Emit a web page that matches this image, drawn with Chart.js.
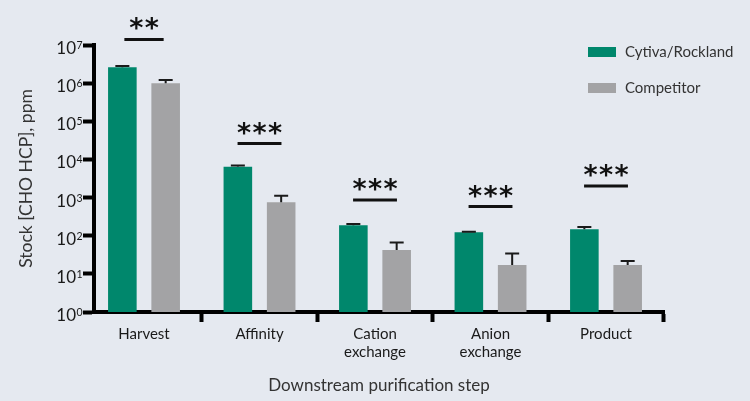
<!DOCTYPE html>
<html>
<head>
<meta charset="utf-8">
<script src="https://cdn.jsdelivr.net/npm/chart.js@4"></script>
<style>
  html, body { margin: 0; padding: 0; background: #e5e9f0; }
  #wrap { width: 750px; height: 401px; }
</style>
</head>
<body>
<div id="wrap"><canvas id="chart" width="750" height="401"></canvas></div>
<script>
// --- DATA ---
const steps = ['Harvest', 'Affinity', ['Cation', 'exchange'], ['Anion', 'exchange'], 'Product'];
const cytiva = [2.6e6, 6400, 187, 123, 147];
const cytivaErr = [2.8e6, 6900, 203, 127, 170];       // top of error bar
const competitor = [1.0e6, 750, 42, 17, 17];
const competitorErr = [1.2e6, 1120, 66, 34, 21.6];
const sigLabels = ['**', '***', '***', '***', '***'];
const sigLevel = [1.4e7, 2.6e4, 865, 580, 2000];     // height of the bracket line
const yTickExps = [0, 1, 2, 3, 4, 5, 6, 7];

const GREEN = '#00876c';
const GREY = '#a3a3a5';
const FONT = 'Lato, "Open Sans", sans-serif';

// --- PLUGINS ---
const errorBars = {
  id: 'errorBars',
  afterDatasetsDraw(chart) {
    const { ctx } = chart;
    const y = chart.scales.y;
    ctx.save();
    ctx.strokeStyle = '#1a1a1a';
    ctx.lineWidth = 2;
    chart.data.datasets.forEach((ds, di) => {
      chart.getDatasetMeta(di).data.forEach((bar, i) => {
        const top = y.getPixelForValue(ds.errUp[i]);
        ctx.beginPath();
        ctx.moveTo(bar.x, bar.y);
        ctx.lineTo(bar.x, top);
        ctx.moveTo(bar.x - 7, top);
        ctx.lineTo(bar.x + 7, top);
        ctx.stroke();
      });
    });
    ctx.restore();
  }
};

const sigMarks = {
  id: 'sigMarks',
  afterDraw(chart) {
    const { ctx } = chart;
    const { x, y } = chart.scales;
    ctx.save();
    ctx.strokeStyle = '#111';
    ctx.fillStyle = '#111';
    ctx.lineWidth = 3;
    ctx.font = 'bold 27px "DejaVu Sans"';
    ctx.textAlign = 'center';
    ctx.textBaseline = 'alphabetic';
    sigLabels.forEach((lab, i) => {
      const half = lab.length === 2 ? 0.17 : 0.19;
      const ly = y.getPixelForValue(sigLevel[i]);
      const x0 = x.getPixelForValue(i - half), x1 = x.getPixelForValue(i + half);
      ctx.beginPath();
      ctx.moveTo(x0, ly);
      ctx.lineTo(x1, ly);
      ctx.stroke();
      const cx = (x0 + x1) / 2;
      for (let k = 0; k < lab.length; k++) {
        ctx.fillText(lab[k], cx + (k - (lab.length - 1) / 2) * 15.5, ly - 2);
      }
    });
    ctx.restore();
  }
};

const yLabels = {
  id: 'yLabels',
  afterDraw(chart) {
    const { ctx } = chart;
    const y = chart.scales.y;
    ctx.save();
    ctx.fillStyle = '#1a1a1a';
    ctx.textBaseline = 'alphabetic';
    yTickExps.forEach(p => {
      const py = y.getPixelForValue(Math.pow(10, p));
      ctx.font = '17px ' + FONT;
      ctx.textAlign = 'right';
      ctx.fillText('10', 76, py + 9);
      ctx.font = '10.5px ' + FONT;
      ctx.textAlign = 'left';
      ctx.fillText(String(p), 76.5, py + 4);
    });
    ctx.restore();
  }
};

const sideLegend = {
  id: 'sideLegend',
  afterDraw(chart) {
    const { ctx } = chart;
    ctx.save();
    ctx.font = '15px ' + FONT;
    ctx.textBaseline = 'middle';
    ctx.textAlign = 'left';
    chart.data.datasets.forEach((ds, i) => {
      const cy = 52 + i * 36;
      ctx.fillStyle = ds.backgroundColor;
      ctx.fillRect(588, cy - 5, 28, 10);
      ctx.fillStyle = '#333';
      ctx.fillText(ds.label, 625, cy);
    });
    ctx.restore();
  }
};

// --- CHART ---
const ctx = document.getElementById('chart').getContext('2d');

new Chart(ctx, {
  type: 'bar',
  data: {
    datasets: [
      {
        label: 'Cytiva/Rockland',
        data: cytiva.map((v, i) => ({ x: i, y: v })),
        errUp: cytivaErr,
        backgroundColor: GREEN,
        barPercentage: 0.66, categoryPercentage: 0.75, borderWidth: 0
      },
      {
        label: 'Competitor',
        data: competitor.map((v, i) => ({ x: i, y: v })),
        errUp: competitorErr,
        backgroundColor: GREY,
        barPercentage: 0.66, categoryPercentage: 0.75, borderWidth: 0
      }
    ]
  },
  options: {
    responsive: false,
    animation: false,
    layout: { padding: { left: 0, top: 45, right: 86, bottom: 0 } },
    plugins: { legend: { display: false }, tooltip: { enabled: false } },
    scales: {
      x: {
        type: 'linear', min: -0.433, max: 4.502, offset: false,
        afterBuildTicks: s => { s.ticks = steps.map((_, i) => ({ value: i })); },
        afterFit: s => { s.height = 89; },
        ticks: {
          callback: v => steps[v],
          font: { family: FONT, size: 15 }, color: '#1a1a1a',
          padding: 3, maxRotation: 0, autoSkip: false
        },
        grid: { drawOnChartArea: false, drawTicks: true, tickLength: 10, tickWidth: 4, tickColor: '#000' },
        border: { color: '#000', width: 4 },
        title: {
          display: true, text: 'Downstream purification step',
          font: { family: FONT, size: 17 }, color: '#333', padding: { top: 0, bottom: 5 }
        }
      },
      y: {
        type: 'logarithmic', min: 1, max: 1e7,
        afterBuildTicks: s => { s.ticks = yTickExps.map(p => ({ value: Math.pow(10, p) })); },
        afterFit: s => { s.width = 94; },
        ticks: { display: false },
        grid: { drawOnChartArea: false, drawTicks: true, tickLength: 11, tickWidth: 4, tickColor: '#000' },
        border: { color: '#000', width: 4 },
        title: {
          display: true, text: 'Stock [CHO HCP], ppm',
          font: { family: FONT, size: 17.5 }, color: '#333', padding: { top: 16, bottom: 0 }
        }
      }
    }
  },
  plugins: [errorBars, sigMarks, yLabels, sideLegend]
});
</script>
</body>
</html>
